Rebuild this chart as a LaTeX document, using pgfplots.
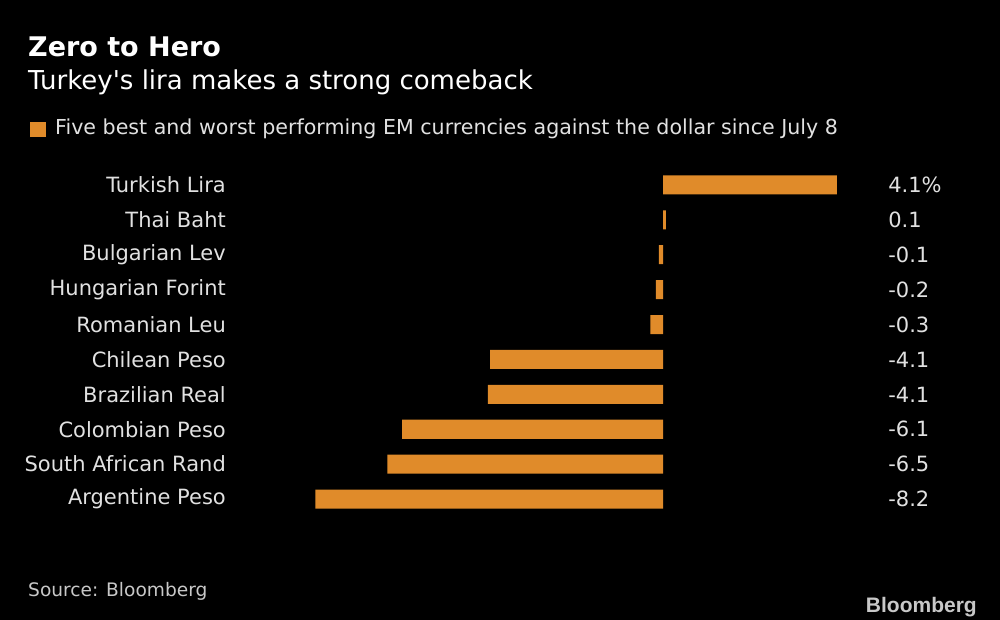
\documentclass[border=0pt]{standalone}
\usepackage{fontspec}
\setmainfont{DejaVu Sans}
\newfontfamily\logofont{Liberation Sans}
\usepackage{pgfplots}
\pgfplotsset{compat=1.18}
\definecolor{barc}{RGB}{224,139,42}
\definecolor{lab}{RGB}{225,225,225}
\definecolor{src}{RGB}{200,200,200}
\begin{document}
\begin{tikzpicture}[x=1pt,y=1pt]
\fill[black] (0,0) rectangle (1000,620);
\node[anchor=base west, inner sep=0, text=white, font=\fontsize{27}{30}\selectfont\bfseries] at (28,563) {Zero to Hero};
\node[anchor=base west, inner sep=0, text=white, font=\fontsize{26}{30}\selectfont] at (28,530) {Turkey\textquotesingle s lira makes a strong comeback};
\fill[barc] (30,483) rectangle (46,498);
\node[anchor=base west, inner sep=0, text=lab, font=\fontsize{20.6}{24}\selectfont] at (55,485) {Five best and worst performing EM currencies against the dollar since July 8};
\node[anchor=base west, inner sep=0, text=src, font=\fontsize{18.6}{22}\selectfont] at (28,23) {Source: Bloomberg};
\node[anchor=base east, inner sep=0, text=src, font=\fontsize{21}{24}\selectfont\logofont\bfseries] at (977,7) {Bloomberg};
\begin{axis}[at={(239pt,103.5pt)}, anchor=south west, scale only axis,
  width=636pt, height=349pt, xmin=-10, xmax=5, ymin=-0.5, ymax=9.5,
  y dir=reverse, axis line style={draw=none}, major tick length=0pt,
  xtick=\empty, ytick={0,...,9},
  yticklabels={Turkish Lira,Thai Baht,Bulgarian Lev,Hungarian Forint,Romanian Leu,Chilean Peso,Brazilian Real,Colombian Peso,South African Rand,Argentine Peso},
  yticklabel style={anchor=east, inner sep=0pt, xshift=-13pt, text=lab, font=\fontsize{21}{24}\selectfont},
  clip=false]
\addplot[xbar, bar width=19pt, fill=barc, draw=none] coordinates {
(4.1,0) (0.07,1) (-0.1,2) (-0.17,3) (-0.3,4) (-4.08,5) (-4.13,6) (-6.15,7) (-6.5,8) (-8.2,9)};
\addplot[draw=none, mark=none, nodes near coords, point meta=explicit symbolic,
  every node near coord/.append style={anchor=west, inner sep=0pt, text=lab, font=\fontsize{21}{24}\selectfont}]
coordinates {(5.31,0) [4.1\%] (5.31,1) [0.1] (5.31,2) [-0.1] (5.31,3) [-0.2] (5.31,4) [-0.3]
(5.31,5) [-4.1] (5.31,6) [-4.1] (5.31,7) [-6.1] (5.31,8) [-6.5] (5.31,9) [-8.2]};
\end{axis}
\end{tikzpicture}
\end{document}
